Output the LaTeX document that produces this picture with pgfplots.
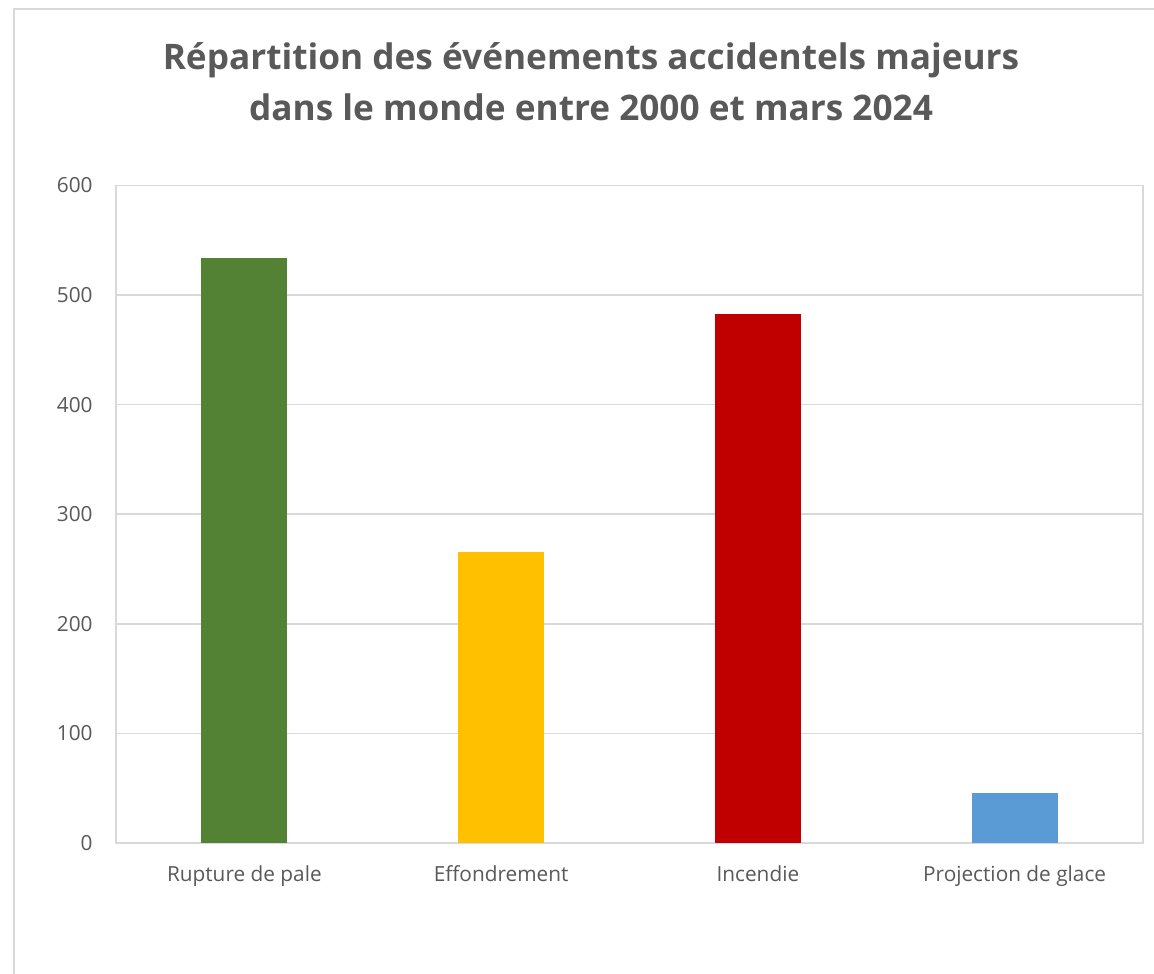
\documentclass[border=0pt]{standalone}
\usepackage{fontspec}
\setmainfont{Open Sans}
\usepackage{pgfplots}
\pgfplotsset{compat=1.18}
\definecolor{txt}{HTML}{595959}
\definecolor{grd}{HTML}{D9D9D9}
\definecolor{cgreen}{HTML}{548235}
\definecolor{cyellow}{HTML}{FFC000}
\definecolor{cred}{HTML}{C00000}
\definecolor{cblue}{HTML}{5B9BD5}
\begin{document}
\begin{tikzpicture}
\useasboundingbox (0pt,0pt) rectangle (577pt,486.5pt);
\fill[white] (0pt,0pt) rectangle (577pt,486.5pt);
\draw[grd, line width=0.75pt] (7pt,-20pt) -- (7pt,482pt) -- (600pt,482pt);
\node[font=\fontsize{17.6pt}{25.5pt}\selectfont\bfseries, text=txt, align=center] at (295.5pt,445.5pt)
  {Répartition des événements accidentels majeurs\\dans le monde entre 2000 et mars 2024};
\begin{axis}[
  at={(58pt,65pt)}, anchor=south west,
  scale only axis, width=513.5pt, height=328.75pt,
  xmin=-0.5, xmax=3.5, ymin=0, ymax=600,
  ytick={0,100,...,600},
  xtick={0,1,2,3},
  xticklabels={Rupture de pale, Effondrement, Incendie, Projection de glace},
  major tick length=0pt,
  ymajorgrids, grid style={grd, line width=0.75pt},
  axis line style={grd, line width=0.75pt},
  tick label style={font=\fontsize{10.4pt}{12pt}\selectfont, text=txt},
  /pgf/number format/assume math mode=true,
  yticklabel style={anchor=east, inner sep=0pt, xshift=-11.5pt},
  xticklabel style={anchor=north, inner sep=0pt, yshift=-11pt},
  ybar, bar width=43pt, bar shift=0pt,
  clip=false,
]
\addplot[fill=cgreen, draw=none] coordinates {(0,534)};
\addplot[fill=cyellow, draw=none] coordinates {(1,266)};
\addplot[fill=cred, draw=none] coordinates {(2,483)};
\addplot[fill=cblue, draw=none] coordinates {(3,46)};
\end{axis}
\end{tikzpicture}
\end{document}
